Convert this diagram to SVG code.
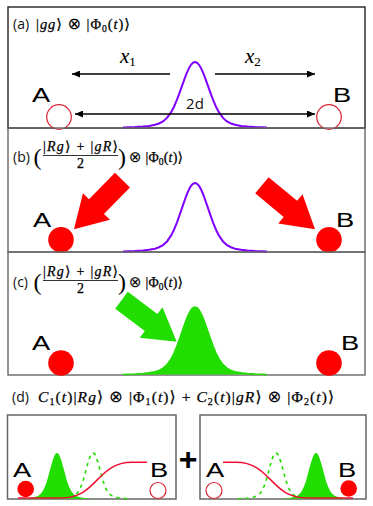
<svg xmlns="http://www.w3.org/2000/svg" xmlns:xlink="http://www.w3.org/1999/xlink" width="373" height="506" viewBox="0 0 373 506">
<style>
.sans{font-family:"Open Sans","Liberation Sans",sans-serif;fill:#111}
.lbl{font-family:"Liberation Sans",Arial,sans-serif;font-size:19.5px;fill:#000}
.math{font-family:"Liberation Serif","DejaVu Serif",serif;fill:#000;stroke:#000;stroke-width:0.25}
.it{font-style:italic}
.ot{font-family:"DejaVu Sans",sans-serif;stroke-width:0.1}
.box{fill:none;stroke:#666;stroke-width:1.4}
.ax{stroke:#000;stroke-width:1.3;fill:none}
.purple{fill:none;stroke:#8000ff;stroke-width:2}
.green{fill:#22dd00;stroke:none}
.dash{fill:none;stroke:#22dd00;stroke-width:1.6;stroke-dasharray:3.5 4}
.open{fill:#fff;stroke:#dd2233;stroke-width:1.2}
.full{fill:#ff0000}
.sig{fill:none;stroke:#ee1030;stroke-width:1.5}
</style>
<defs>
<marker id="ah" viewBox="0 0 8 7" refX="8" refY="3.5" markerWidth="8" markerHeight="7" markerUnits="userSpaceOnUse" orient="auto-start-reverse">
<path d="M0,0 L8,3.5 L0,7 z" fill="#000"/>
</marker>
<path id="gauss" d="M-72,-0.4 L-60,-0.9 L-52,-1.5 L-46,-2.1 L-40,-3.2 L-36,-4.5 L-32,-6.6 L-28,-10.1 L-24,-15.6 L-21,-21.3 L-18,-28.3 L-15,-36.4 L-12,-44.9 L-9,-53.1 L-7.5,-56.7 L-6,-59.9 L-4.5,-62.5 L-3,-64.4 L-1.5,-65.6 L0,-66 L1.5,-65.6 L3,-64.4 L4.5,-62.5 L6,-59.9 L7.5,-56.7 L9,-53.1 L12,-44.9 L15,-36.4 L18,-28.3 L21,-21.3 L24,-15.6 L28,-10.1 L32,-6.6 L36,-4.5 L40,-3.2 L46,-2.1 L52,-1.5 L60,-0.9 L72,-0.4"/>
<path id="gs" d="M-38.2,-0.3 L-31.8,-0.6 L-27.6,-1 L-24.4,-1.5 L-21.2,-2.2 L-19.1,-3.1 L-17,-4.6 L-14.8,-7 L-12.7,-10.9 L-11.1,-14.8 L-9.5,-19.7 L-8,-25.4 L-6.4,-31.3 L-4.8,-37 L-4,-39.5 L-3.2,-41.8 L-2.4,-43.6 L-1.6,-44.9 L-0.8,-45.7 L0,-46 L0.8,-45.7 L1.6,-44.9 L2.4,-43.6 L3.2,-41.8 L4,-39.5 L4.8,-37 L6.4,-31.3 L8,-25.4 L9.5,-19.7 L11.1,-14.8 L12.7,-10.9 L14.8,-7 L17,-4.6 L19.1,-3.1 L21.2,-2.2 L24.4,-1.5 L27.6,-1 L31.8,-0.6 L38.2,-0.3"/>
<polygon id="barrow" points="-69,-10.5 -32,-10.5 -32,-19 0,0 -32,19 -32,10.5 -69,10.5"/>
</defs>
<rect x="0" y="0" width="373" height="506" fill="#fff"/>

<g id="panel-a">
<rect x="8" y="7" width="357" height="121" fill="none" stroke="#222" stroke-width="1.4"/>
<text class="sans" x="13" y="29" font-size="14">(a)</text>
<text class="math" x="36" y="29" font-size="14.5" textLength="94" lengthAdjust="spacing">|<tspan class="it">gg</tspan>⟩ <tspan class="ot" font-size="16">⊗</tspan> |Φ<tspan font-size="9.5" dy="3">0</tspan><tspan dy="-3">(</tspan><tspan class="it">t</tspan>)⟩</text>
<text class="math it" x="120" y="63" font-size="21" style="stroke-width:0.1">x<tspan font-size="13" dy="3" font-style="normal">1</tspan></text>
<text class="math it" x="245" y="63" font-size="21" style="stroke-width:0.1">x<tspan font-size="13" dy="3" font-style="normal">2</tspan></text>
<use xlink:href="#gauss" href="#gauss" class="purple" transform="translate(195,128)"/>
<text class="sans" x="195" y="108.5" font-size="15" text-anchor="middle">2d</text>
<circle class="open" cx="59" cy="117" r="12.3"/>
<circle class="open" cx="329" cy="117" r="12.3"/>
<text class="lbl" transform="translate(32,102) scale(1.4,1)">A</text>
<text class="lbl" transform="translate(333,102) scale(1.4,1)">B</text>
</g>

<g id="panel-b">
<rect class="box" x="8" y="128" width="357" height="124"/>
<text class="sans" x="13" y="162" font-size="14">(b)</text>
<text class="math" x="33.5" y="165" font-size="24" style="stroke-width:0">(</text>
<text class="math" x="43" y="151" font-size="14" textLength="75" lengthAdjust="spacing">|<tspan class="it">Rg</tspan>⟩ + |<tspan class="it">gR</tspan>⟩</text>
<line x1="43" y1="155.5" x2="118" y2="155.5" stroke="#000" stroke-width="0.8"/>
<text class="math" x="80.5" y="167.5" font-size="14" text-anchor="middle">2</text>
<text class="math" x="118" y="165" font-size="24" style="stroke-width:0">)</text>
<text class="math" x="129" y="162" font-size="14" textLength="54" lengthAdjust="spacing"><tspan class="ot" font-size="15">⊗</tspan> |Φ<tspan font-size="9.5" dy="3">0</tspan><tspan dy="-3">(</tspan><tspan class="it">t</tspan>)⟩</text>
<use xlink:href="#gauss" href="#gauss" class="purple" transform="translate(195,252) scale(1,1.045)"/>
<circle class="full" cx="61" cy="239.7" r="12.8"/>
<circle class="full" cx="329" cy="239.7" r="12.8"/>
<text class="lbl" transform="translate(33,227) scale(1.4,1)">A</text>
<text class="lbl" transform="translate(336,227) scale(1.4,1)">B</text>
</g>

<g id="panel-c">
<rect class="box" x="8" y="252" width="357" height="123"/>
<text class="sans" x="13" y="287" font-size="14">(c)</text>
<text class="math" x="33.5" y="290" font-size="24" style="stroke-width:0">(</text>
<text class="math" x="43" y="276" font-size="14" textLength="75" lengthAdjust="spacing">|<tspan class="it">Rg</tspan>⟩ + |<tspan class="it">gR</tspan>⟩</text>
<line x1="43" y1="280.5" x2="118" y2="280.5" stroke="#000" stroke-width="0.8"/>
<text class="math" x="80.5" y="292.5" font-size="14" text-anchor="middle">2</text>
<text class="math" x="118" y="290" font-size="24" style="stroke-width:0">)</text>
<text class="math" x="129" y="287" font-size="14" textLength="54" lengthAdjust="spacing"><tspan class="ot" font-size="15">⊗</tspan> |Φ<tspan font-size="9.5" dy="3">0</tspan><tspan dy="-3">(</tspan><tspan class="it">t</tspan>)⟩</text>
<use xlink:href="#gauss" href="#gauss" transform="translate(195,375) scale(1,1.03)" style="fill:#22dd00;stroke:#22dd00;stroke-width:1.5"/>
<circle class="full" cx="61" cy="363" r="12.8"/>
<circle class="full" cx="329" cy="363" r="12.8"/>
<text class="lbl" transform="translate(32,350) scale(1.4,1)">A</text>
<text class="lbl" transform="translate(341,350) scale(1.4,1)">B</text>
</g>

<g id="panel-d">
<text class="sans" x="12" y="402" font-size="14">(d)</text>
<text class="math" x="38" y="402" font-size="15.5" textLength="296" lengthAdjust="spacing"><tspan class="it">C</tspan><tspan font-size="10" dy="3">1</tspan><tspan dy="-3">(</tspan><tspan class="it">t</tspan>)|<tspan class="it">Rg</tspan>⟩ <tspan class="ot" font-size="16.5">⊗</tspan> |Φ<tspan font-size="10" dy="3">1</tspan><tspan dy="-3">(</tspan><tspan class="it">t</tspan>)⟩ + <tspan class="it">C</tspan><tspan font-size="10" dy="3">2</tspan><tspan dy="-3">(</tspan><tspan class="it">t</tspan>)|<tspan class="it">gR</tspan>⟩ <tspan class="ot" font-size="16.5">⊗</tspan> |Φ<tspan font-size="10" dy="3">2</tspan><tspan dy="-3">(</tspan><tspan class="it">t</tspan>)⟩</text>
<text x="188" y="470" font-family="Liberation Sans, Arial, sans-serif" font-weight="bold" font-size="32" text-anchor="middle" fill="#000">+</text>
</g>

<g id="box-d1">
<rect class="box" x="7.5" y="415" width="168.5" height="84" style="stroke-width:1.5"/>
<use xlink:href="#gs" href="#gs" class="green" transform="translate(57,499)"/>
<use xlink:href="#gs" href="#gs" class="dash" transform="translate(93,499)"/>
<path class="sig" d="M18,498 H62 C97,498 97,462.3 132,462.3 H147"/>
<circle class="full" cx="25.7" cy="489" r="8.3"/>
<circle class="open" cx="158" cy="490.5" r="8"/>
<text class="lbl" transform="translate(13,477) scale(1.4,1)">A</text>
<text class="lbl" transform="translate(150,477) scale(1.4,1)">B</text>
</g>

<g id="box-d2">
<rect class="box" x="200" y="415" width="166" height="84" style="stroke-width:1.5"/>
<use xlink:href="#gs" href="#gs" class="green" transform="translate(316,499)"/>
<use xlink:href="#gs" href="#gs" class="dash" transform="translate(276,499)"/>
<path class="sig" d="M223,462.3 H236 C271,462.3 271,498 306,498 H353"/>
<circle class="open" cx="214" cy="490.5" r="8"/>
<circle class="full" cx="348.7" cy="488.5" r="8.3"/>
<text class="lbl" transform="translate(206,477) scale(1.4,1)">A</text>
<text class="lbl" transform="translate(338,477) scale(1.4,1)">B</text>
</g>

<g id="connectors">
<line class="ax" x1="170" y1="74" x2="72" y2="74" marker-end="url(#ah)"/>
<line class="ax" x1="215" y1="74" x2="315" y2="74" marker-end="url(#ah)"/>
<line class="ax" x1="75" y1="114" x2="315" y2="114" marker-start="url(#ah)" marker-end="url(#ah)"/>
<use xlink:href="#barrow" href="#barrow" fill="#ff0000" transform="translate(74,229.3) rotate(134.6)"/>
<use xlink:href="#barrow" href="#barrow" fill="#ff0000" transform="translate(315,229.3) rotate(39.7)"/>
<use xlink:href="#barrow" href="#barrow" fill="#22dd00" transform="translate(176.7,341.7) rotate(36.9)"/>
</g>
</svg>
